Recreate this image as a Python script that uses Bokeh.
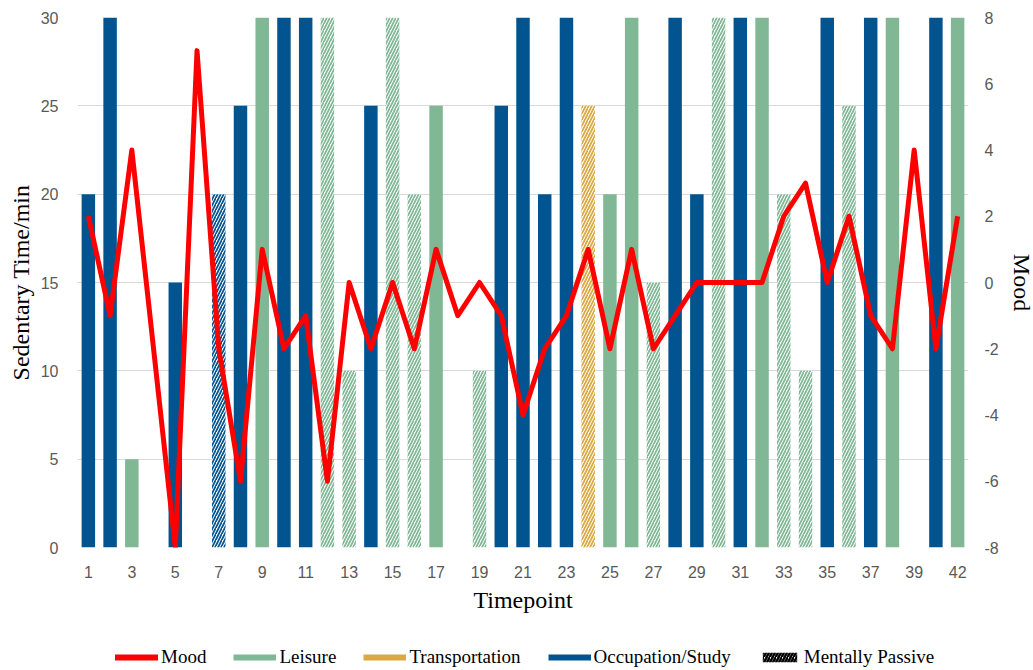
from bokeh.plotting import figure
from bokeh.layouts import column
from bokeh.models import (ColumnDataSource, Range1d, LinearAxis, FixedTicker,
                          Legend, LegendItem)
from bokeh.embed import file_html
from bokeh.resources import INLINE

# ---------------- data ----------------
timepoints = list(range(1, 41)) + [42]
sedentary_min = [20, 30, 5, 0, 15, 0, 20, 25, 30, 30,
                 30, 30, 10, 25, 30, 20, 25, 0, 10, 25,
                 30, 20, 30, 25, 20, 30, 15, 30, 20, 30,
                 30, 30, 20, 10, 30, 25, 30, 30, 0, 30,
                 30]
activity = ["Occupation/Study", "Occupation/Study", "Leisure", "", "Occupation/Study",
            "", "Occupation/Study", "Occupation/Study", "Leisure", "Occupation/Study",
            "Occupation/Study", "Leisure", "Leisure", "Occupation/Study", "Leisure",
            "Leisure", "Leisure", "", "Leisure", "Occupation/Study",
            "Occupation/Study", "Occupation/Study", "Occupation/Study", "Transportation", "Leisure",
            "Leisure", "Leisure", "Occupation/Study", "Occupation/Study", "Leisure",
            "Occupation/Study", "Leisure", "Leisure", "Leisure", "Occupation/Study",
            "Leisure", "Occupation/Study", "Leisure", "", "Occupation/Study",
            "Leisure"]
mentally_passive_timepoints = [7, 12, 13, 15, 16, 19, 24, 27, 30, 33, 34, 36]
mood = [2, -1, 4, -2, -8, 7, -2, -6, 1, -2,
        -1, -6, 0, -2, 0, -2, 1, -1, 0, -1,
        -4, -2, -1, 1, -2, 1, -2, -1, 0, 0,
        0, 0, 2, 3, 0, 2, -1, -2, 4, -2,
        2]
left_ticks = [0, 5, 10, 15, 20, 25, 30]
right_ticks = [-8, -6, -4, -2, 0, 2, 4, 6, 8]
x_tick_labels_every = 2

colors = {"Leisure": "#80b794", "Transportation": "#daa93f",
          "Occupation/Study": "#01548f"}
MOOD_COLOR = "#ff0000"

# ---------------- sources ----------------
idx = list(range(len(timepoints)))
bx, btop, bfill, bhatch, bhcol = [], [], [], [], []
for i, t in enumerate(timepoints):
    if not activity[i] or sedentary_min[i] == 0:
        continue
    c = colors[activity[i]]
    passive = t in mentally_passive_timepoints
    bx.append(i)
    btop.append(sedentary_min[i])
    bfill.append("white" if passive else c)
    bhatch.append("/" if passive else " ")
    bhcol.append(c)
bars = ColumnDataSource(dict(x=bx, top=btop, fill=bfill, hatch=bhatch, hcol=bhcol))
line_src = ColumnDataSource(dict(x=idx, mood=mood))

TICK_FONT = "Liberation Sans"
TITLE_FONT = "Liberation Serif"
TICK_COLOR = "#595959"

# ---------------- main figure ----------------
p = figure(frame_width=891, frame_height=530,
           x_range=Range1d(-0.5, len(timepoints) - 0.5), y_range=Range1d(0, 30),
           output_backend="svg", toolbar_location=None,
           min_border_left=77, min_border_right=64, min_border_top=17,
           min_border_bottom=70)
p.outline_line_color = None
p.extra_y_ranges = {"mood": Range1d(-8, 8)}
p.xgrid.visible = False
p.ygrid.grid_line_color = "#d9d9d9"
p.ygrid.grid_line_width = 1


def style_axis(ax, label, tick_standoff, label_standoff):
    ax.axis_label = label
    ax.axis_label_text_font = TITLE_FONT
    ax.axis_label_text_font_size = "24px"
    ax.axis_label_text_font_style = "normal"
    ax.axis_label_text_color = "black"
    ax.axis_label_standoff = label_standoff
    ax.major_label_text_font = TICK_FONT
    ax.major_label_text_font_size = "16px"
    ax.major_label_text_color = TICK_COLOR
    ax.major_label_standoff = tick_standoff
    ax.axis_line_color = None
    ax.major_tick_line_color = None
    ax.minor_tick_line_color = None
    ax.major_tick_out = 0
    ax.major_tick_in = 0
    ax.minor_tick_out = 0
    ax.minor_tick_in = 0


yax = p.yaxis[0]
yax.ticker = FixedTicker(ticks=left_ticks)
style_axis(yax, "Sedentary Time/min", 19, 4)

rax = LinearAxis(y_range_name="mood", ticker=FixedTicker(ticks=right_ticks))
rax.major_label_overrides = {v: str(v) for v in right_ticks}
style_axis(rax, "Mood", 16, 7)
rax.axis_label_orientation = "vertical"
p.add_layout(rax, "right")

xax = p.xaxis[0]
ticks = list(range(0, len(timepoints), x_tick_labels_every))
xax.ticker = FixedTicker(ticks=ticks)
xax.major_label_overrides = {i: str(timepoints[i]) for i in ticks}
style_axis(xax, "Timepoint", 18, 6)

p.vbar(x="x", top="top", bottom=0, width=0.62, source=bars,
       fill_color="fill", line_color=None,
       hatch_pattern="hatch", hatch_color="hcol", hatch_scale=6, hatch_weight=1.7)

p.line(x="x", y="mood", source=line_src, y_range_name="mood",
       line_color=MOOD_COLOR, line_width=5, line_join="round")

# ---------------- legend strip ----------------
lf = figure(width=1032, height=52, min_border=0, output_backend="svg",
            toolbar_location=None, x_axis_type=None, y_axis_type=None,
            x_range=Range1d(0, 1), y_range=Range1d(0, 1))
lf.outline_line_color = None

off = [-10.0]  # proxy glyphs kept off-screen; they only feed the legend
lg_mood = lf.line(x=off, y=off, line_color=MOOD_COLOR, line_width=6, line_cap="round")
lg_leis = lf.line(x=off, y=off, line_color=colors["Leisure"], line_width=6)
lg_tran = lf.line(x=off, y=off, line_color=colors["Transportation"], line_width=6)
lg_occ = lf.line(x=off, y=off, line_color=colors["Occupation/Study"], line_width=6)
lg_pass = lf.vbar(x=off, top=off, width=0.5, fill_color="white", line_color=None,
                  hatch_pattern="/", hatch_color="black", hatch_scale=6, hatch_weight=2.4)

legend = Legend(items=[
    LegendItem(label="Mood", renderers=[lg_mood]),
    LegendItem(label="Leisure", renderers=[lg_leis]),
    LegendItem(label="Transportation", renderers=[lg_tran]),
    LegendItem(label="Occupation/Study", renderers=[lg_occ]),
    LegendItem(label="Mentally Passive", renderers=[lg_pass]),
], orientation="horizontal", location=(38, 1))
legend.label_text_font = TITLE_FONT
legend.label_text_font_size = "19px"
legend.label_text_color = "black"
legend.glyph_width = 43
legend.glyph_height = 12
legend.label_standoff = 3
legend.spacing = 27
legend.padding = 0
legend.margin = 0
legend.border_line_color = None
legend.background_fill_alpha = 0
lf.add_layout(legend)

layout = column(p, lf, spacing=0)
open("out.html", "w").write(file_html(layout, INLINE))
